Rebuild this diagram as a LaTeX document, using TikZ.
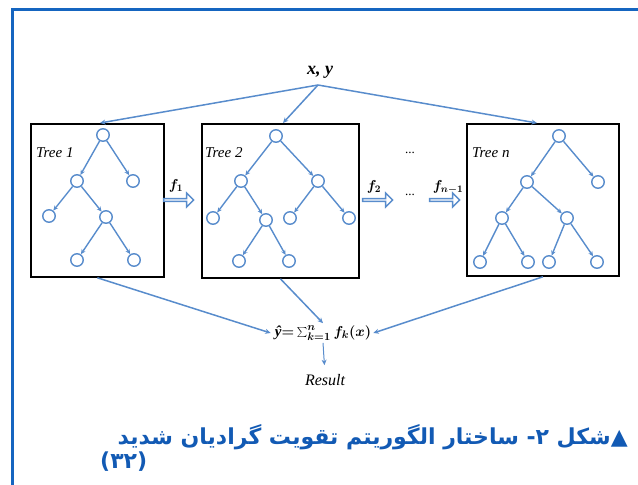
\documentclass[tikz,border=0pt]{standalone}
\usepackage{fontspec}
\setmainfont{Liberation Serif}
\newfontfamily\arabicfont[Script=Arabic]{DejaVu Sans}
\newfontfamily\plainsans{DejaVu Sans}
\TeXXeTstate=1
\usetikzlibrary{arrows.meta,shapes.arrows}
\definecolor{tb}{RGB}{88,140,204}
\definecolor{fb}{RGB}{21,101,192}
\definecolor{capblue}{RGB}{18,90,180}
\tikzset{
  tnode/.style={circle, draw=tb, line width=1.4pt, minimum size=12.5pt, inner sep=0pt, fill=white},
  tedge/.style={draw=tb, line width=1.4pt, -{Stealth[length=5pt,width=4.5pt]}},
  treebox/.style={draw=black, line width=1.8pt, inner sep=0pt, anchor=north west},
  flow/.style={draw=tb, line width=1.5pt, -{Stealth[length=5.5pt,width=5pt]}},
  hollow/.style={single arrow, draw=tb, line width=1.4pt, fill=white, minimum height=30pt, minimum width=14pt, single arrow head extend=3pt, inner sep=0pt},
  lbl/.style={font=\itshape\fontsize{15}{15}\selectfont, inner sep=0pt},
  flbl/.style={inner sep=0pt, font=\fontsize{14}{14}\selectfont\boldmath},
  frame/.style={draw=fb, line width=3pt, line join=miter},
  captext/.style={inner sep=0pt, text=capblue, font=\arabicfont\bfseries\fontsize{22}{22}\selectfont}
}
\begin{document}
\begin{tikzpicture}[x=1pt,y=-1pt]
\useasboundingbox (0,0) rectangle (638,485);
\draw[frame] (12,485) -- (12,9) -- (638,9);

% boxes
\node[treebox, minimum width=133pt, minimum height=153pt] (b1) at (30,123) {};
\node[treebox, minimum width=157pt, minimum height=154pt] (b2) at (201,123) {};
\node[treebox, minimum width=152pt, minimum height=152pt] (bn) at (466,123) {};

\node[lbl, anchor=west] (lab1) at (36,153) {Tree 1};
\node[lbl, anchor=west] (lab2) at (205,153) {Tree 2};
\node[lbl, anchor=west] (labn) at (472,153) {Tree n};

% input
\node[font=\bfseries\itshape\fontsize{18}{18}\selectfont, inner sep=0pt] (xy) at (320,72) {x, y};
\coordinate (split) at (318,85);
\draw[flow] (split) -- (100,123);
\draw[flow] (split) -- (283,123);
\draw[flow] (split) -- (537,123);

% Tree 1
\node[tnode] (a0) at (103,135) {};
\node[tnode] (a1) at (77,181) {};
\node[tnode] (a2) at (133,181) {};
\node[tnode] (a3) at (49,216) {};
\node[tnode] (a4) at (106,217) {};
\node[tnode] (a5) at (77,260) {};
\node[tnode] (a6) at (134,260) {};
\draw[tedge] (a0) -- (a1);
\draw[tedge] (a0) -- (a2);
\draw[tedge] (a1) -- (a3);
\draw[tedge] (a1) -- (a4);
\draw[tedge] (a4) -- (a5);
\draw[tedge] (a4) -- (a6);

% Tree 2
\node[tnode] (c0) at (276,136) {};
\node[tnode] (c1) at (241,181) {};
\node[tnode] (c2) at (318,181) {};
\node[tnode] (c3) at (213,218) {};
\node[tnode] (c4) at (266,220) {};
\node[tnode] (c5) at (290,218) {};
\node[tnode] (c6) at (349,218) {};
\node[tnode] (c7) at (239,261) {};
\node[tnode] (c8) at (289,261) {};
\draw[tedge] (c0) -- (c1);
\draw[tedge] (c0) -- (c2);
\draw[tedge] (c1) -- (c3);
\draw[tedge] (c1) -- (c4);
\draw[tedge] (c2) -- (c5);
\draw[tedge] (c2) -- (c6);
\draw[tedge] (c4) -- (c7);
\draw[tedge] (c4) -- (c8);

% Tree n
\node[tnode] (d0) at (559,136) {};
\node[tnode] (d1) at (527,182) {};
\node[tnode] (d2) at (598,182) {};
\node[tnode] (d3) at (502,218) {};
\node[tnode] (d4) at (567,218) {};
\node[tnode] (d5) at (480,262) {};
\node[tnode] (d6) at (528,262) {};
\node[tnode] (d7) at (549,262) {};
\node[tnode] (d8) at (597,262) {};
\draw[tedge] (d0) -- (d1);
\draw[tedge] (d0) -- (d2);
\draw[tedge] (d1) -- (d3);
\draw[tedge] (d1) -- (d4);
\draw[tedge] (d3) -- (d5);
\draw[tedge] (d3) -- (d6);
\draw[tedge] (d4) -- (d7);
\draw[tedge] (d4) -- (d8);

% hollow arrows
\node[hollow] (h1) at (178,200) {};
\node[hollow] (h2) at (377,200) {};
\node[hollow] (h3) at (444,200) {};
\node[flbl] (f1) at (176,186) {$f_{1}$};
\node[flbl] (f2) at (374,187) {$f_{2}$};
\node[flbl] (f3) at (448,187) {$f_{n-1}$};
\node[inner sep=0pt, font=\fontsize{13}{13}\selectfont] (dots1) at (410,153) {...};
\node[inner sep=0pt, font=\fontsize{13}{13}\selectfont] (dots2) at (410,195) {...};

% sum
\node[inner sep=2pt, font=\fontsize{15}{15}\selectfont\boldmath] (sum) at (323,333) {{\bfseries\itshape ŷ}${=}\sum_{k=1}^{n} f_{k}(x)$};
\draw[flow] (b1.south) -- ([xshift=-2pt]sum.west);
\draw[flow] (b2.south) -- (sum.north);
\draw[flow] (bn.south) -- (sum.east);
\node[lbl, font=\itshape\fontsize{16}{16}\selectfont] (res) at (325,380) {Result};
\draw[flow, line width=1pt, shorten >=9pt] (sum.south) -- (res.north);

% caption
\node[captext, anchor=east] (cap1) at (628,437)
  {\beginR{\plainsans ▲}شکل ۲- ساختار الگوریتم تقویت گرادیان شدید\endR};
\node[captext, anchor=west] (cap2) at (100,462) {(۳۲)};
\end{tikzpicture}
\end{document}
